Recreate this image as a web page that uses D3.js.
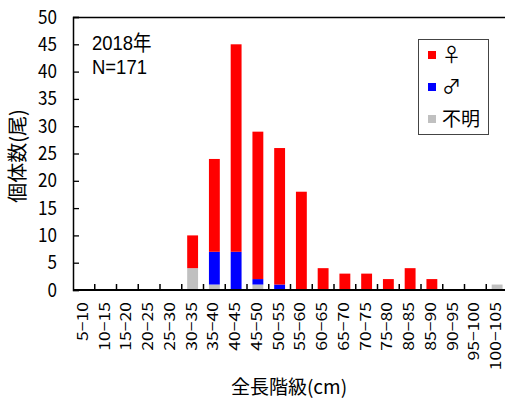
<!DOCTYPE html>
<html><head><meta charset="utf-8">
<script src="https://cdn.jsdelivr.net/npm/d3@7"></script>
<style>body{margin:0;background:#fff;} svg{display:block;} text{font-family:"Noto Sans CJK JP","Noto Sans",sans-serif;fill:#000;}</style>
</head><body>
<svg id="c" width="505" height="402"></svg>
<script>
const categories = ["5-10","10-15","15-20","20-25","25-30","30-35","35-40","40-45","45-50","50-55","55-60","60-65","65-70","70-75","75-80","80-85","85-90","90-95","95-100","100-105"];
const unknown = [0,0,0,0,0,4,1,0,1,0,0,0,0,0,0,0,0,0,0,1];
const male    = [0,0,0,0,0,0,6,7,1,1,0,0,0,0,0,0,0,0,0,0];
const female  = [0,0,0,0,0,6,17,38,27,25,18,4,3,3,2,4,2,0,0,0];
const yTicks = [0,5,10,15,20,25,30,35,40,45,50];
const seriesNames = ["不明","♂","♀"];
const seriesColors = ["#c0c0c0","#0000ff","#ff0000"];
const noteLines = ["2018年","N=171"];

const svg = d3.select("#c");
const L=73, R=508, T=17, B=290;
const x = d3.scaleBand().domain(categories).range([L,R]).paddingInner(0.5).paddingOuter(0.25);
const y = d3.scaleLinear().domain([0,50]).range([B,T]);

const table = categories.map((c,i)=>({cat:c,"不明":unknown[i],"♂":male[i],"♀":female[i]}));
const stack = d3.stack().keys(seriesNames)(table);

svg.append("g").selectAll("g").data(stack).join("g")
  .attr("fill",(d,i)=>seriesColors[i])
  .selectAll("rect").data(d=>d).join("rect")
  .attr("x",d=>x(d.data.cat))
  .attr("width",x.bandwidth())
  .attr("y",d=>y(d[1]))
  .attr("height",d=>y(d[0])-y(d[1]));

// frame top
svg.append("line").attr("x1",L).attr("x2",505).attr("y1",T+0.5).attr("y2",T+0.5).attr("stroke","#000").attr("stroke-width",1.3);

// y axis
const ya = svg.append("g").attr("transform",`translate(${L},0)`)
  .call(d3.axisRight(y).tickValues(yTicks).tickSize(6).tickFormat(""));
ya.select(".domain").attr("stroke-width",1.5);
ya.selectAll(".tick line").attr("stroke-width",1.3);
svg.append("g").selectAll("text").data(yTicks).join("text")
  .attr("transform",d=>`translate(57,${y(d)+6.5}) scale(0.95,1.05)`).attr("text-anchor","end")
  .style("font-size","18px").text(d=>d);

// x axis
const bounds = d3.range(1,categories.length).map(i=>x(categories[i]) - x.step()*x.paddingInner()/2);
const xa = svg.append("g").attr("transform",`translate(0,${B})`)
  .call(d3.axisBottom(x).tickSize(0).tickFormat(""));
xa.select(".domain").attr("stroke-width",2).attr("d",`M${L},0H505`);
xa.selectAll(".tick").remove();
svg.append("g").selectAll("line").data(bounds).join("line")
  .attr("x1",d=>d).attr("x2",d=>d).attr("y1",B).attr("y2",B-6)
  .attr("stroke","#000").attr("stroke-width",1.5);
svg.append("g").selectAll("text").data(categories).join("text")
  .attr("transform",d=>`translate(${x(d)+x.bandwidth()/2+4},${302}) rotate(-90) scale(1.17,1)`)
  .attr("text-anchor","end").style("font-size","15px").text(d=>d.replace("-","−"));

// titles
svg.append("text").attr("x",289).attr("y",394).attr("text-anchor","middle").style("font-size","19px").text("全長階級(cm)");
svg.append("text").attr("transform","translate(25,156) rotate(-90)").attr("text-anchor","middle").style("font-size","20px").text("個体数(尾)");

svg.append("g").selectAll("text").data(noteLines).join("text")
  .attr("transform",(d,i)=>`translate(92,${50+i*24}) scale(0.88,1)`)
  .style("font-family",'"Liberation Sans","Noto Sans CJK JP",sans-serif')
  .style("font-size","21px").text(d=>d);

// legend
svg.append("rect").attr("x",418.5).attr("y",39.5).attr("width",70).attr("height",95).attr("fill","none").attr("stroke","#444").attr("stroke-width",1);
const leg = [{n:"♀",c:seriesColors[2],y:55},{n:"♂",c:seriesColors[1],y:87},{n:"不明",c:seriesColors[0],y:119}];
const lg = svg.append("g").selectAll("g").data(leg).join("g").attr("transform",d=>`translate(428,${d.y})`);
lg.append("rect").attr("x",0).attr("y",-4).attr("width",8).attr("height",8).attr("fill",d=>d.c);
lg.append("text").attr("x",14).attr("y",7).style("font-size","19px").text(d=>d.n);
</script>
</body></html>
